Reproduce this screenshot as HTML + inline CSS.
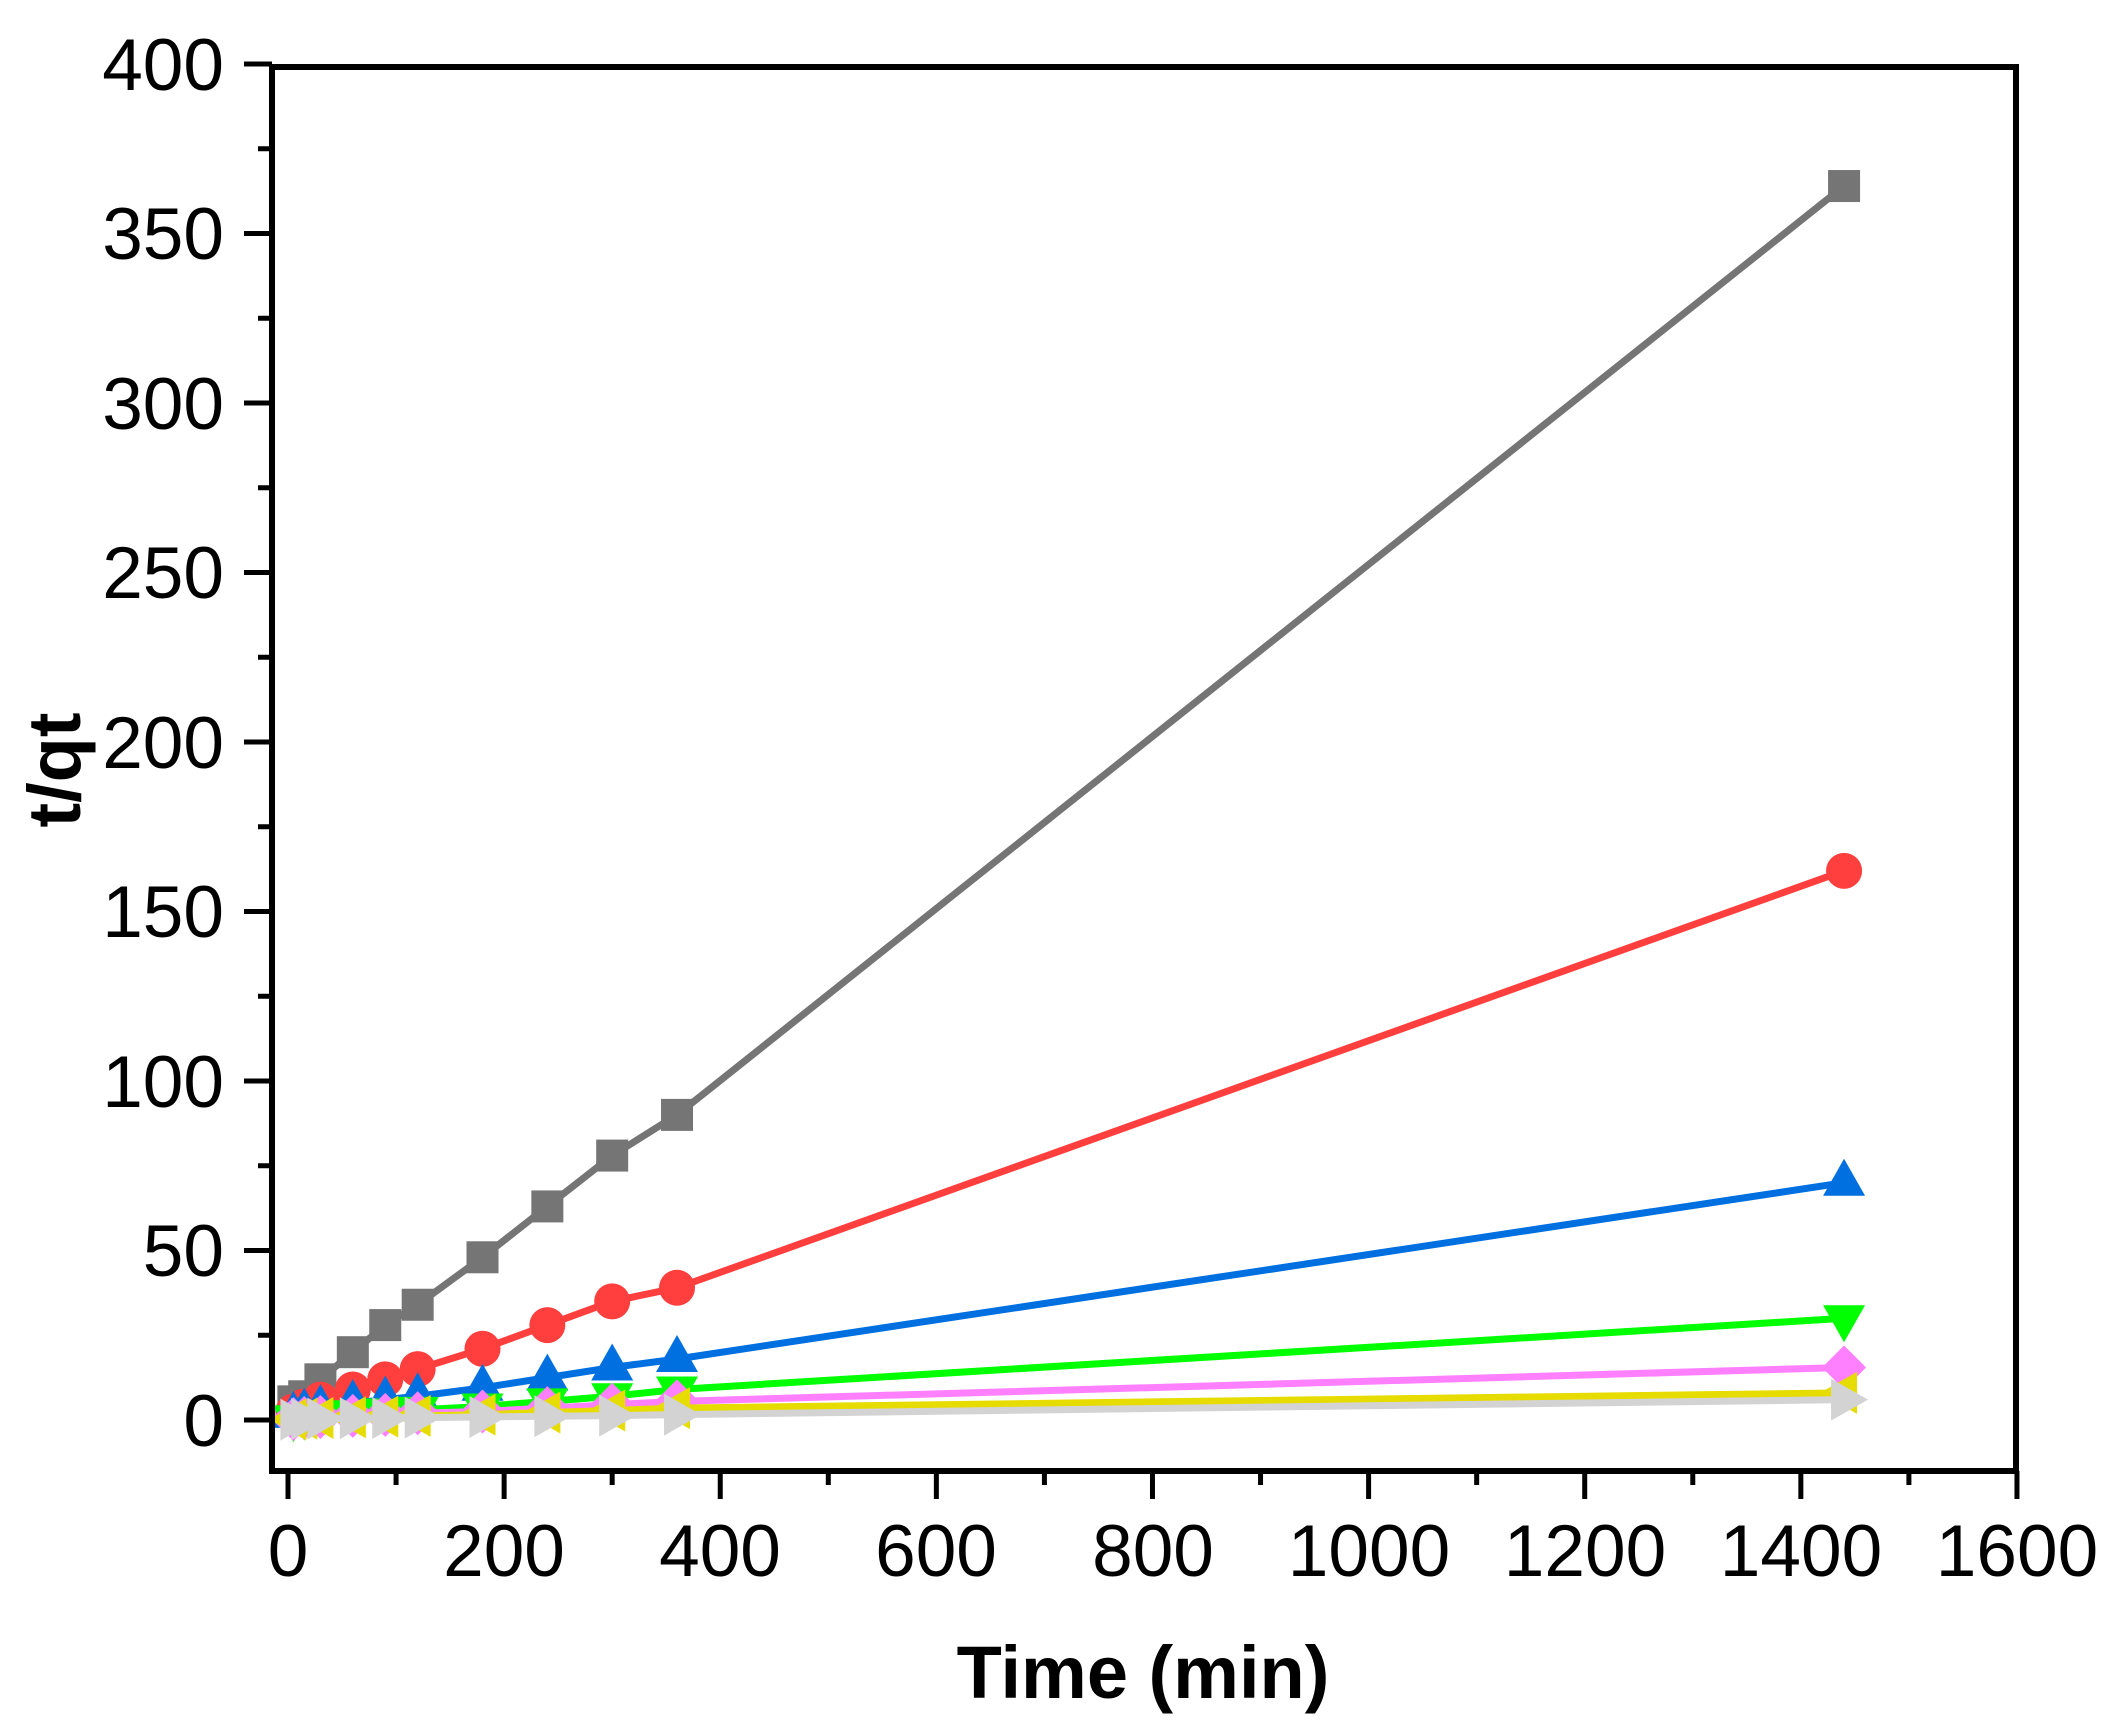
<!DOCTYPE html>
<html><head><meta charset="utf-8"><style>body{margin:0;background:#fff}svg{display:block}</style></head>
<body>
<svg id="s" width="2101" height="1728" viewBox="0 0 2101 1728" xmlns="http://www.w3.org/2000/svg">
<rect width="2101" height="1728" fill="#fff"/>
<g id="data"></g>
<g id="axes" stroke="#000" stroke-width="6" fill="none">
<rect x="272" y="67" width="1744" height="1404"/>
</g>
<g id="ticks" stroke="#000" stroke-width="5"></g>
<g font-family="Liberation Sans, Arial, sans-serif" font-size="73" fill="#000" text-anchor="end">
<text x="224" y="90">400</text>
<text x="224" y="259">350</text>
<text x="224" y="429">300</text>
<text x="224" y="598">250</text>
<text x="224" y="768">200</text>
<text x="224" y="937">150</text>
<text x="224" y="1107">100</text>
<text x="224" y="1276">50</text>
<text x="224" y="1446">0</text>
</g>
<g font-family="Liberation Sans, Arial, sans-serif" font-size="73" fill="#000" text-anchor="middle">
<text x="288" y="1576">0</text>
<text x="504" y="1576">200</text>
<text x="720" y="1576">400</text>
<text x="936" y="1576">600</text>
<text x="1153" y="1576">800</text>
<text x="1369" y="1576">1000</text>
<text x="1585" y="1576">1200</text>
<text x="1801" y="1576">1400</text>
<text x="2017" y="1576">1600</text>
</g>
<text x="1143" y="1698" font-family="Liberation Sans, Arial, sans-serif" font-size="74" font-weight="bold" text-anchor="middle">Time (min)</text>
<text transform="translate(80,770) rotate(-90)" font-family="Liberation Sans, Arial, sans-serif" font-size="74" font-weight="bold" text-anchor="middle">t/qt</text>
</svg>
<script>
var NS="http://www.w3.org/2000/svg";
function X(v){return 288+v*1.0806;}
function Y(v){return 1420-v*3.39;}
var tk=document.getElementById("ticks"),h="";
for(var v=-25;v<=400;v+=25){if(v<-15)continue;var y=Y(v),len=(v%50==0)?28:14;h+='<line x1="'+(272-len)+'" y1="'+y+'" x2="272" y2="'+y+'"/>';}
for(var v=0;v<=1600;v+=100){var x=X(v),len=(v%200==0)?28:14;h+='<line x1="'+x+'" y1="1471" x2="'+x+'" y2="'+(1471+len)+'"/>';}
tk.innerHTML=h;
var t=[5,15,30,60,90,120,180,240,300,360,1440];
var S=[
 {c:"#757575",m:"sq",y:[5.5,7,12,20,28,34,48,63,78,90,364]},
 {c:"#ff3e3e",m:"ci",y:[2.5,4,6,9,12,15,21,28,35,39,162]},
 {c:"#0070e0",m:"tu",y:[1.5,2.5,3.5,5,6,7,9.5,12.5,15.5,18,70]},
 {c:"#00ff00",m:"td",y:[0.5,1,1.5,2,2.5,3,4,5.5,7,9,30]},
 {c:"#ff80ff",m:"di",y:[0.3,0.6,0.9,1.2,1.5,2,2.5,3.5,4.5,5.5,15.5]},
 {c:"#e6dc00",m:"tl",y:[0.2,0.4,0.6,0.8,1,1.2,1.6,2.2,2.8,3.5,8]},
 {c:"#d3d3d3",m:"tr",y:[0.1,0.3,0.4,0.5,0.6,0.7,0.9,1.1,1.3,1.6,6]}
];
var g="";
S.forEach(function(s){
 var p=t.map(function(tt,i){return X(tt)+","+Y(s.y[i]);}).join(" ");
 g+='<polyline points="'+p+'" fill="none" stroke="'+s.c+'" stroke-width="7"/>';
 t.forEach(function(tt,i){var x=X(tt),y=Y(s.y[i]);var f=' fill="'+s.c+'"';
  if(s.m=="sq")g+='<rect x="'+(x-16)+'" y="'+(y-16)+'" width="32" height="32"'+f+'/>';
  else if(s.m=="ci")g+='<circle cx="'+x+'" cy="'+y+'" r="18"'+f+'/>';
  else if(s.m=="tu")g+='<polygon points="'+x+','+(y-24)+' '+(x+21)+','+(y+13)+' '+(x-21)+','+(y+13)+'"'+f+'/>';
  else if(s.m=="td")g+='<polygon points="'+x+','+(y+24)+' '+(x+21)+','+(y-13)+' '+(x-21)+','+(y-13)+'"'+f+'/>';
  else if(s.m=="di")g+='<polygon points="'+x+','+(y-22)+' '+(x+22)+','+y+' '+x+','+(y+22)+' '+(x-22)+','+y+'"'+f+'/>';
  else if(s.m=="tl")g+='<polygon points="'+(x-24)+','+y+' '+(x+13)+','+(y-21)+' '+(x+13)+','+(y+21)+'"'+f+'/>';
  else if(s.m=="tr")g+='<polygon points="'+(x+24)+','+y+' '+(x-13)+','+(y-21)+' '+(x-13)+','+(y+21)+'"'+f+'/>';
 });
});
document.getElementById("data").innerHTML=g;
</script>
</body></html>
